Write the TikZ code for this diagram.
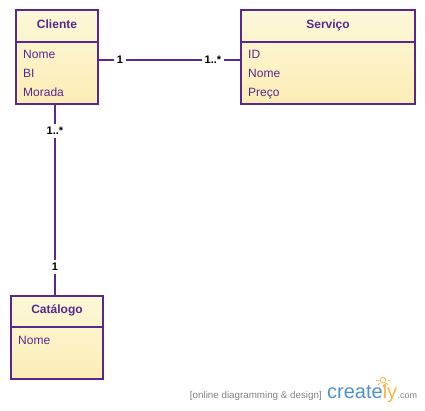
\documentclass[tikz,border=0pt]{standalone}
\usepackage{fontspec}
\setmainfont{Liberation Sans}
\usetikzlibrary{positioning}
\definecolor{roxo}{RGB}{88,40,140}
\definecolor{creamtop}{RGB}{251,248,216}
\definecolor{creambot}{RGB}{252,237,182}
\definecolor{azulcr}{RGB}{80,145,205}
\definecolor{laranjacr}{RGB}{248,178,70}
\definecolor{cinza}{RGB}{130,130,130}
\tikzset{
  classe/.style={draw=roxo, line width=2pt, top color=creamtop, bottom color=creambot,
                 inner sep=0pt, outer sep=0pt},
  titulo/.style={text=roxo, font=\fontsize{12}{14}\selectfont\bfseries, anchor=base, inner sep=0pt},
  atributo/.style={text=roxo, font=\fontsize{12}{14}\selectfont, anchor=base west, inner sep=0pt},
  divisao/.style={draw=roxo, line width=2pt},
  liga/.style={draw=roxo, line width=2pt},
  mult/.style={fill=white, text=black, font=\fontsize{11}{12}\selectfont\bfseries, inner sep=3pt}
}
\begin{document}
\begin{tikzpicture}[x=1pt, y=-1pt]
  \useasboundingbox (0,0) rectangle (425,410);
  % classes
  \node[classe, minimum width=82pt, minimum height=94pt] (cliente) at (57,57) {};
  \node[classe, minimum width=174pt, minimum height=94pt] (servico) at (328,57) {};
  \node[classe, minimum width=92pt, minimum height=83pt] (catalogo) at (57,337.5) {};
  % divisoes
  \draw[divisao] (cliente.north west) ++(0,32) -- ++(82,0);
  \draw[divisao] (servico.north west) ++(0,32) -- ++(174,0);
  \draw[divisao] (catalogo.north west) ++(0,31) -- ++(92,0);
  % titulos
  \node[titulo] (tCliente) at (57,28.5) {Cliente};
  \node[titulo] (tServico) at (328,28.5) {Serviço};
  \node[titulo] (tCatalogo) at (57,313) {Catálogo};
  % atributos
  \node[atributo] (cNome) at (23,58.5) {Nome};
  \node[atributo] (cBI) at (23,77.5) {BI};
  \node[atributo] (cMorada) at (23,96.5) {Morada};
  \node[atributo] (sID) at (248,58.5) {ID};
  \node[atributo] (sNome) at (248,77.5) {Nome};
  \node[atributo] (sPreco) at (248,96.5) {Preço};
  \node[atributo] (kNome) at (18,344) {Nome};
  % ligacoes
  \draw[liga] ([yshift=-3pt]cliente.east) -- node[mult, pos=0.154] {1}
              node[mult, pos=0.804] {1..*} ([yshift=-3pt]servico.west);
  \draw[liga] ([xshift=-2pt]cliente.south) -- node[mult, pos=0.14] {1..*}
              node[mult, pos=0.85] {1} ([xshift=-2pt]catalogo.north);
  % marca
  \node[anchor=base east, text=cinza, font=\fontsize{9.8}{10}\selectfont, inner sep=0pt]
    (marca) at (322,398) {[online diagramming \& design]};
  \node[anchor=base west, font=\fontsize{20}{22}\selectfont, inner sep=0pt]
    (logo) at (327,398) {\textcolor{azulcr}{create}\textcolor{laranjacr}{ly}};
  \node[anchor=base west, text=cinza, font=\fontsize{9}{10}\selectfont, inner sep=0pt]
    (com) at (logo.base east) {.com};
  \draw[laranjacr, line width=0.8pt] (383,380) circle (2.8pt);
  \foreach \a in {0,45,90,135,180} {
    \draw[laranjacr, line width=0.8pt] (383,380) ++(\a:-4.5pt) -- ++(\a:-2.5pt);
  }
\end{tikzpicture}
\end{document}
